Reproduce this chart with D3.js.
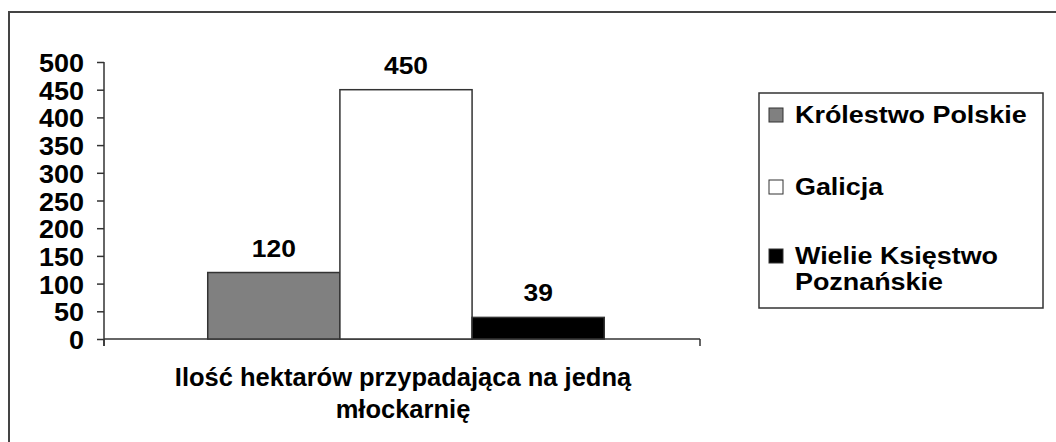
<!DOCTYPE html>
<html>
<head>
<meta charset="utf-8">
<script src="https://cdn.jsdelivr.net/npm/d3@7"></script>
<style>
  body { margin: 0; background: #fff; }
  text { font-family: "Liberation Sans", Arial, sans-serif; font-weight: bold; fill: #000; }
</style>
</head>
<body>
<script>
// chart data
var categories = ["Ilość hektarów przypadająca na jedną młockarnię"];
var series = ["Królestwo Polskie", "Galicja", "Wielie Księstwo Poznańskie"];
var values = [120, 450, 39];
var colors = ["#808080", "#ffffff", "#000000"];
var yTicks = [0, 50, 100, 150, 200, 250, 300, 350, 400, 450, 500];
var xLabelLines = ["Ilość hektarów przypadająca na jedną", "młockarnię"];
var legendLines = [["Królestwo Polskie"], ["Galicja"], ["Wielie Księstwo", "Poznańskie"]];

var svgWidth = 1056;
var svgHeight = 442;

var svg = d3.select("body")
  .append("svg")
    .attr("width", svgWidth)
    .attr("height", svgHeight);

// outer frame (right and bottom edges run off the picture)
svg.append("rect")
  .attr("x", 9)
  .attr("y", 12)
  .attr("width", 1100)
  .attr("height", 500)
  .attr("fill", "none")
  .attr("stroke", "#444")
  .attr("stroke-width", 2);

// scales
var plotLeft = 104, plotRight = 700, plotTop = 62, plotBottom = 339;

var yScale = d3.scaleLinear().domain([0, 500]).range([plotBottom, plotTop]);

var x0 = d3.scaleBand()
  .domain(categories)
  .range([plotLeft, plotRight])
  .padding(0.201)
  .align(0.52);

var x1 = d3.scaleBand()
  .domain(series)
  .range([0, x0.bandwidth()]);

// y axis
var leftAxis = d3.axisLeft(yScale)
  .tickValues(yTicks)
  .tickSize(7)
  .tickSizeOuter(0);

var yAxisG = svg.append("g")
  .attr("transform", "translate(" + plotLeft + ",0)")
  .call(leftAxis);

yAxisG.select(".domain").remove();
yAxisG.selectAll(".tick line").attr("stroke", "#333").attr("stroke-width", 1.5);
// the original type is a bit wider than Liberation Sans, stretch it a little
yAxisG.selectAll(".tick text")
  .attr("x", -18.5)
  .attr("dy", "0.38em")
  .attr("transform", "scale(1.08,1)")
  .style("font-size", "25px");

yAxisG.append("line")
  .attr("x1", 0).attr("x2", 0)
  .attr("y1", plotTop).attr("y2", plotBottom + 7)
  .attr("stroke", "#333")
  .attr("stroke-width", 1.5);

// x axis
var xAxisG = svg.append("g")
  .attr("transform", "translate(0," + plotBottom + ")");

xAxisG.append("line")
  .attr("x1", plotLeft).attr("x2", plotRight)
  .attr("y1", 0).attr("y2", 0)
  .attr("stroke", "#333")
  .attr("stroke-width", 1.5);

xAxisG.selectAll(".edge")
  .data(x0.range())
  .enter()
  .append("line")
    .attr("class", "edge")
    .attr("x1", function(d) { return d; })
    .attr("x2", function(d) { return d; })
    .attr("y1", 0).attr("y2", 7)
    .attr("stroke", "#333")
    .attr("stroke-width", 1.5);

// bars
var groupX = x0(categories[0]);

svg.selectAll(".bar")
  .data(values)
  .enter()
  .append("rect")
    .attr("class", "bar")
    .attr("x", function(d, i) { return groupX + x1(series[i]); })
    .attr("y", function(d) { return yScale(d); })
    .attr("width", x1.bandwidth())
    .attr("height", function(d) { return yScale(0) - yScale(d); })
    .attr("fill", function(d, i) { return colors[i]; })
    .attr("stroke", "#333")
    .attr("stroke-width", 1.5);

// value labels
svg.selectAll(".val")
  .data(values)
  .enter()
  .append("text")
    .attr("class", "val")
    .attr("text-anchor", "middle")
    .attr("transform", function(d, i) {
      var cx = groupX + x1(series[i]) + x1.bandwidth() / 2;
      return "translate(" + cx + "," + (yScale(d) - 16) + ") scale(1.1,1)";
    })
    .style("font-size", "24px")
    .text(function(d) { return d; });

// category label
var labelX = groupX + x0.bandwidth() / 2 - 3;

svg.append("text")
  .attr("text-anchor", "middle")
  .attr("transform", "translate(" + labelX + ",386) scale(1.02,1)")
  .style("font-size", "25px")
  .selectAll("tspan")
  .data(xLabelLines)
  .enter()
  .append("tspan")
    .attr("x", 0)
    .attr("dy", function(d, i) { return i === 0 ? 0 : 32; })
    .text(function(d) { return d; });

// legend
var legend = svg.append("g");

legend.append("rect")
  .attr("x", 759)
  .attr("y", 93)
  .attr("width", 284)
  .attr("height", 215)
  .attr("fill", "#fff")
  .attr("stroke", "#333")
  .attr("stroke-width", 1.5);

var legendBaselines = [123, 195, 264];

var item = legend.selectAll(".item")
  .data(series)
  .enter()
  .append("g")
    .attr("class", "item")
    .attr("transform", function(d, i) { return "translate(769," + legendBaselines[i] + ")"; });

item.append("rect")
  .attr("x", 0)
  .attr("y", -15)
  .attr("width", 14)
  .attr("height", 14)
  .attr("fill", function(d, i) { return colors[i]; })
  .attr("stroke", "#333")
  .attr("stroke-width", 1);

item.append("text")
  .attr("transform", "translate(26,0) scale(1.17,1)")
  .style("font-size", "23px")
  .selectAll("tspan")
  .data(function(d, i) { return legendLines[i]; })
  .enter()
  .append("tspan")
    .attr("x", 0)
    .attr("dy", function(d, i) { return i === 0 ? 0 : 26; })
    .text(function(d) { return d; });
</script>
</body>
</html>
